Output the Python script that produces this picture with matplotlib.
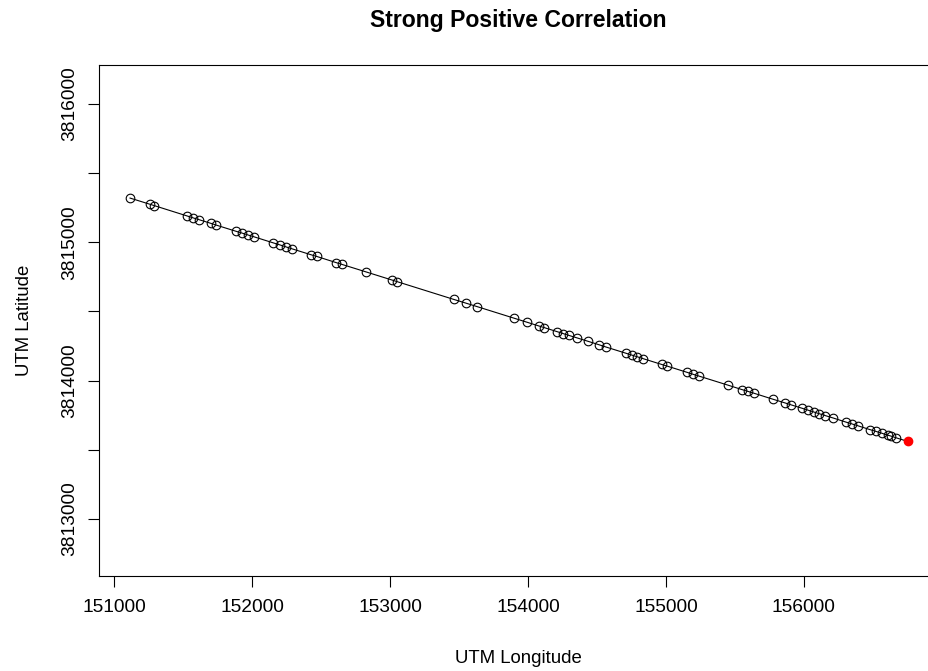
import matplotlib
matplotlib.use("Agg")
import matplotlib.pyplot as plt
from matplotlib.ticker import MultipleLocator, FuncFormatter

plt.rcParams['font.family'] = ['Liberation Sans', 'DejaVu Sans']

# UTM positions
utm_lon = [151114, 151259, 151288, 151527, 151571, 151614, 151701, 151741,
           151879, 151926, 151970, 152013, 152153, 152199, 152242, 152286,
           152424, 152468, 152610, 152649, 152823, 153012, 153050, 153463,
           153548, 153632, 153901, 153991, 154080, 154116, 154212, 154256,
           154297, 154353, 154437, 154517, 154563, 154708, 154752, 154788,
           154832, 154970, 155010, 155151, 155194, 155240, 155452, 155550,
           155593, 155639, 155779, 155864, 155905, 155989, 156033, 156074,
           156112, 156154, 156210, 156304, 156347, 156395, 156480, 156524,
           156569, 156608, 156630, 156666, 156753]
utm_lat = [3815320, 3815275, 3815266, 3815191, 3815177, 3815164, 3815137, 3815124,
           3815081, 3815067, 3815053, 3815040, 3814996, 3814982, 3814968, 3814954,
           3814911, 3814898, 3814853, 3814841, 3814787, 3814728, 3814716, 3814587,
           3814561, 3814535, 3814451, 3814423, 3814395, 3814384, 3814354, 3814340,
           3814327, 3814310, 3814284, 3814259, 3814244, 3814199, 3814185, 3814174,
           3814160, 3814117, 3814105, 3814061, 3814047, 3814033, 3813967, 3813936,
           3813923, 3813909, 3813865, 3813839, 3813826, 3813800, 3813786, 3813773,
           3813761, 3813748, 3813731, 3813701, 3813688, 3813673, 3813646, 3813633,
           3813619, 3813606, 3813600, 3813588, 3813561]

fig = plt.figure(figsize=(9.29, 6.71), dpi=100)
ax = fig.add_axes([99 / 929, (671 - 575.7) / 671, (937 - 99) / 929, (575.7 - 65) / 671])

ax.plot(utm_lon, utm_lat, color='black', linewidth=0.8, zorder=1)
ax.plot(utm_lon[:-1], utm_lat[:-1], linestyle='none', marker='o', markersize=6.2,
        markerfacecolor='none', markeredgecolor='black', markeredgewidth=0.8, zorder=2)
# last position highlighted
ax.plot(utm_lon[-1:], utm_lat[-1:], linestyle='none', marker='o', markersize=6,
        color='red', zorder=3)

ax.set_xlim(150889, 156966)
ax.set_ylim(3812590, 3816282)

ax.xaxis.set_major_locator(MultipleLocator(1000))
ax.yaxis.set_major_locator(MultipleLocator(500))
ax.yaxis.set_major_formatter(FuncFormatter(lambda v, p: f"{v:.0f}" if v % 1000 == 0 else ""))
ax.xaxis.set_major_formatter(FuncFormatter(lambda v, p: f"{v:.0f}"))
ax.tick_params(length=8, width=0.8, labelsize=13.8, colors='black')
ax.tick_params(axis='x', pad=9)
ax.tick_params(axis='y', pad=7)
for lab in ax.get_yticklabels():
    lab.set_rotation(90)
    lab.set_va('center')
for s in ax.spines.values():
    s.set_linewidth(0.8)

ax.set_xlabel("UTM Longitude", fontsize=13.4, labelpad=24)
ax.set_ylabel("UTM Latitude", fontsize=13.4, labelpad=20)
ax.set_title("Strong Positive Correlation", fontsize=16.6, fontweight='bold', pad=27)

fig.savefig("out.png", dpi=100)
